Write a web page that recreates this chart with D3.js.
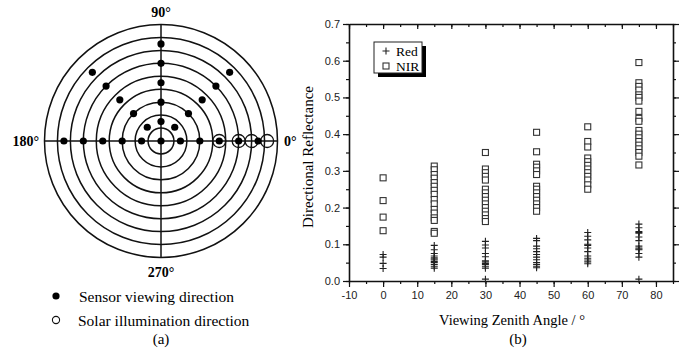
<!DOCTYPE html>
<html>
<head>
    <title>Viewing geometry and directional reflectance</title>
    <script src="https://d3js.org/d3.v7.min.js"></script>
    <style>
        body { margin: 0; background: #fff; }
        .serif { font-family: "Liberation Serif", "Times New Roman", serif; }
        .tick text { font-family: "Liberation Sans", Arial, sans-serif; font-size: 11px; fill: #222; }
        .domain { stroke: #111; stroke-width: 1.6; }
        .tick line { stroke: #111; stroke-width: 1.2; }
    </style>
</head>
<body>
    <svg width="691" height="348"></svg>
    <script>
        // ---- panel (a) data ----
        var ringZenith = [10, 20, 30, 40, 50, 60, 70, 80, 90];
        var sensorZenith = [15, 30, 45, 60, 75];
        var sensorAzimuth = [0, 45, 90, 135, 180];
        var solarZenith = [45, 60, 70, 82];
        var dirLabels = ["0°", "90°", "180°", "270°"];

        // ---- panel (b) data ----
        var viewAngles = [0, 15, 30, 45, 60, 75];
        var redValues = [
            [0.072, 0.065, 0.048, 0.034],
            [0.097, 0.085, 0.075, 0.068, 0.063, 0.06, 0.057, 0.053, 0.05, 0.045, 0.04, 0.035],
            [0.108, 0.098, 0.09, 0.075, 0.066, 0.055, 0.052, 0.048, 0.045, 0.04, 0.035, 0.005],
            [0.116, 0.11, 0.095, 0.088, 0.08, 0.072, 0.065, 0.058, 0.05, 0.045, 0.04, 0.036],
            [0.132, 0.122, 0.112, 0.1, 0.097, 0.09, 0.08, 0.068, 0.062, 0.057, 0.052, 0.047],
            [0.155, 0.145, 0.135, 0.132, 0.13, 0.12, 0.11, 0.095, 0.09, 0.087, 0.085, 0.075, 0.065, 0.005]
        ];
        var nirValues = [
            [0.281, 0.219, 0.174, 0.137],
            [0.313, 0.303, 0.29, 0.28, 0.268, 0.258, 0.247, 0.236, 0.222, 0.21, 0.195, 0.185, 0.172, 0.165, 0.135, 0.13],
            [0.35, 0.305, 0.295, 0.285, 0.275, 0.25, 0.24, 0.23, 0.22, 0.21, 0.2, 0.19, 0.18, 0.17, 0.162],
            [0.405, 0.352, 0.318, 0.31, 0.3, 0.29, 0.258, 0.25, 0.24, 0.23, 0.22, 0.21, 0.2, 0.19],
            [0.42, 0.38, 0.365, 0.335, 0.325, 0.315, 0.305, 0.295, 0.285, 0.275, 0.262, 0.25],
            [0.595, 0.54, 0.53, 0.52, 0.507, 0.5, 0.49, 0.462, 0.443, 0.435, 0.41, 0.4, 0.39, 0.38, 0.37, 0.36, 0.35, 0.34, 0.316]
        ];
        var xTicks = [-10, 0, 10, 20, 30, 40, 50, 60, 70, 80];
        var yTicks = [0, 0.1, 0.2, 0.3, 0.4, 0.5, 0.6, 0.7];
        var seriesNames = ["Red", "NIR"];

        var svg = d3.select("svg");

        // ================= panel (a): polar sampling diagram =================
        var cx = 161, cy = 141;
        var r = d3.scaleLinear().domain([0, 90]).range([0, 116.5]);
        var rad = d => d * Math.PI / 180;
        var pa = svg.append("g").attr("transform", `translate(${cx},${cy})`);

        pa.selectAll("circle.ring")
            .data(ringZenith)
            .enter().append("circle")
            .attr("class", "ring")
            .attr("r", d => r(d))
            .attr("fill", "none")
            .attr("stroke", "#111")
            .attr("stroke-width", 1.5);

        pa.append("line").attr("x1", -r(90)).attr("x2", r(90)).attr("stroke", "#111").attr("stroke-width", 1.5);
        pa.append("line").attr("y1", -r(90)).attr("y2", r(90)).attr("stroke", "#111").attr("stroke-width", 1.5);

        // solar directions (open circles, azimuth 0)
        pa.selectAll("circle.sun")
            .data(solarZenith)
            .enter().append("circle")
            .attr("class", "sun")
            .attr("cx", d => r(d))
            .attr("cy", 0)
            .attr("r", 6.5)
            .attr("fill", "none")
            .attr("stroke", "#111")
            .attr("stroke-width", 1.3);

        var sensorPts = [{z: 0, a: 0}];
        sensorZenith.forEach(z => sensorAzimuth.forEach(a => sensorPts.push({z: z, a: a})));

        pa.selectAll("circle.sensor")
            .data(sensorPts)
            .enter().append("circle")
            .attr("class", "sensor")
            .attr("cx", d => r(d.z) * Math.cos(rad(d.a)))
            .attr("cy", d => -r(d.z) * Math.sin(rad(d.a)))
            .attr("r", 3.6)
            .attr("fill", "#000");

        var labelPos = [
            {x: 123, y: 5, anchor: "start"},
            {x: 0, y: -124, anchor: "middle"},
            {x: -122, y: 5, anchor: "end"},
            {x: 0, y: 136, anchor: "middle"}
        ];
        pa.selectAll("text.dir")
            .data(dirLabels)
            .enter().append("text")
            .attr("class", "serif")
            .attr("x", (d, i) => labelPos[i].x)
            .attr("y", (d, i) => labelPos[i].y)
            .attr("text-anchor", (d, i) => labelPos[i].anchor)
            .attr("font-size", 14)
            .attr("font-weight", "bold")
            .text(d => d);

        // legend (a)
        svg.append("circle").attr("cx", 56).attr("cy", 296).attr("r", 3.6).attr("fill", "#000");
        svg.append("text").attr("class", "serif").attr("x", 79).attr("y", 302)
            .attr("font-size", 15.5).text("Sensor viewing direction");
        svg.append("circle").attr("cx", 56).attr("cy", 320).attr("r", 3.6)
            .attr("fill", "none").attr("stroke", "#111").attr("stroke-width", 1.1);
        svg.append("text").attr("class", "serif").attr("x", 78).attr("y", 326)
            .attr("font-size", 15.5).text("Solar illumination direction");
        svg.append("text").attr("class", "serif").attr("x", 161).attr("y", 344)
            .attr("text-anchor", "middle").attr("font-size", 15).text("(a)");

        // ================= panel (b): scatter =================
        var plotLeft = 349, plotRight = 673, plotTop = 24, plotBottom = 281;
        var x = d3.scaleLinear().domain([-10, 85]).range([plotLeft, plotRight]);
        var y = d3.scaleLinear().domain([0, 0.7]).range([plotBottom, plotTop]);
        var minorX = d3.range(-10, 86, 5);
        var minorY = d3.range(0, 0.71, 0.05);

        // minor ticks first
        svg.append("g").attr("transform", `translate(0,${plotBottom})`)
            .call(d3.axisBottom(x).tickValues(minorX).tickSize(3).tickFormat(""))
            .call(g => g.select(".domain").remove());
        svg.append("g").attr("transform", `translate(${plotLeft},0)`)
            .call(d3.axisLeft(y).tickValues(minorY).tickSize(3).tickFormat(""))
            .call(g => g.select(".domain").remove());
        svg.append("g").attr("transform", `translate(0,${plotTop})`)
            .call(d3.axisTop(x).tickValues(minorX).tickSize(-3).tickFormat(""))
            .call(g => g.select(".domain").remove());
        svg.append("g").attr("transform", `translate(${plotRight},0)`)
            .call(d3.axisRight(y).tickValues(minorY).tickSize(3).tickFormat(""))
            .call(g => g.select(".domain").remove());

        svg.append("g").attr("transform", `translate(0,${plotBottom})`)
            .call(d3.axisBottom(x).tickValues(xTicks).tickSizeInner(6).tickSizeOuter(0).tickPadding(4).tickFormat(d => String(d)));
        svg.append("g").attr("transform", `translate(${plotLeft},0)`)
            .call(d3.axisLeft(y).tickValues(yTicks).tickSizeInner(6).tickSizeOuter(0).tickPadding(3).tickFormat(d => d.toFixed(1)));
        svg.append("g").attr("transform", `translate(0,${plotTop})`)
            .call(d3.axisTop(x).tickValues(xTicks).tickSizeInner(-5).tickSizeOuter(0).tickFormat(""));
        svg.append("g").attr("transform", `translate(${plotRight},0)`)
            .call(d3.axisRight(y).tickValues(yTicks).tickSizeInner(6).tickSizeOuter(0).tickFormat(""));

        var redPts = [], nirPts = [];
        viewAngles.forEach((a, i) => {
            redValues[i].forEach(v => redPts.push([a, v]));
            nirValues[i].forEach(v => nirPts.push([a, v]));
        });

        svg.append("g").selectAll("path")
            .data(redPts)
            .enter().append("path")
            .attr("d", "M-3.5,0H3.5M0,-3.5V3.5")
            .attr("transform", d => `translate(${x(d[0])},${y(d[1])})`)
            .attr("stroke", "#222")
            .attr("stroke-width", 1.1)
            .attr("fill", "none");

        svg.append("g").selectAll("rect")
            .data(nirPts)
            .enter().append("rect")
            .attr("x", d => x(d[0]) - 3)
            .attr("y", d => y(d[1]) - 3)
            .attr("width", 6)
            .attr("height", 6)
            .attr("fill", "#fff")
            .attr("stroke", "#333")
            .attr("stroke-width", 1.1);

        // legend (b)
        var lg = svg.append("g").attr("transform", "translate(374,42)");
        lg.append("rect").attr("x", 4).attr("y", 4).attr("width", 48).attr("height", 31).attr("fill", "#000");
        lg.append("rect").attr("width", 48).attr("height", 31).attr("fill", "#fff").attr("stroke", "#222").attr("stroke-width", 1);
        var li = lg.selectAll("g.item").data(seriesNames).enter().append("g")
            .attr("transform", (d, i) => `translate(12,${9 + i * 15})`);
        li.filter((d, i) => i === 0).append("path").attr("d", "M-3.5,0H3.5M0,-3.5V3.5")
            .attr("stroke", "#222").attr("stroke-width", 1.1);
        li.filter((d, i) => i === 1).append("rect").attr("x", -3).attr("y", -3).attr("width", 6).attr("height", 6)
            .attr("fill", "#fff").attr("stroke", "#333").attr("stroke-width", 1.1);
        li.append("text").attr("class", "serif").attr("x", 10).attr("y", 5)
            .attr("font-size", 13.5).text(d => d);

        svg.append("text").attr("class", "serif")
            .attr("transform", "translate(313,157) rotate(-90)")
            .attr("text-anchor", "middle").attr("font-size", 15)
            .text("Directional Reflectance");
        svg.append("text").attr("class", "serif").attr("x", 512).attr("y", 325)
            .attr("text-anchor", "middle").attr("font-size", 14.5).text("Viewing Zenith Angle / °");
        svg.append("text").attr("class", "serif").attr("x", 518).attr("y", 344)
            .attr("text-anchor", "middle").attr("font-size", 15).text("(b)");
    </script>
</body>
</html>
